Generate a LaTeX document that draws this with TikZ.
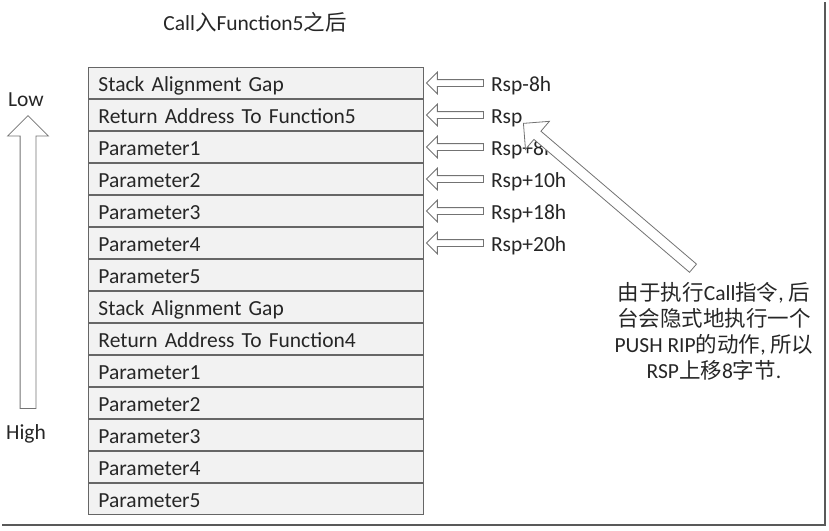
\documentclass[tikz,border=0pt]{standalone}
\usepackage{fontspec}
\setmainfont{Carlito}
\newfontfamily\cjk{Noto Sans CJK SC}
\usetikzlibrary{positioning, shapes.arrows}

\begin{document}
\begin{tikzpicture}[
      x=1pt, y=-1pt,
      font=\fontsize{21.5}{26}\selectfont,
      every node/.style = {text=black!85},
      slot/.style  = {draw=black!60, fill=black!5, line width=0.9pt, anchor=north,
                      minimum height=31.1pt, text width=315pt, inner xsep=10pt,
                      inner ysep=0pt, text height=17pt, text depth=1pt, align=left},
      ptr/.style   = {single arrow, draw=black!55, fill=white, line width=0.8pt,
                      rotate=180, anchor=tip, minimum height=57pt, minimum width=21pt,
                      inner sep=3pt, single arrow head extend=7.5pt},
      lbl/.style   = {inner sep=0pt, anchor=west, text height=17pt, text depth=1pt}]
    \useasboundingbox (0,0) rectangle (829,530);
    % screenshot frame, right and bottom edge
    \draw[black!65, line width=2.5pt] (2,525) -- (825,525) -- (825,2);
    \node (title) at (255,22) {Call{\cjk 入}Function5{\cjk 之后}};
    % stack slots, low addresses on top
    \node[slot, anchor=north west] (r1) at (88,67) {Stack Alignment Gap};
    \node[slot, below=0pt of r1]  (r2)  {Return Address To Function5};
    \node[slot, below=0pt of r2]  (r3)  {Parameter1};
    \node[slot, below=0pt of r3]  (r4)  {Parameter2};
    \node[slot, below=0pt of r4]  (r5)  {Parameter3};
    \node[slot, below=0pt of r5]  (r6)  {Parameter4};
    \node[slot, below=0pt of r6]  (r7)  {Parameter5};
    \node[slot, below=0pt of r7]  (r8)  {Stack Alignment Gap};
    \node[slot, below=0pt of r8]  (r9)  {Return Address To Function4};
    \node[slot, below=0pt of r9]  (r10) {Parameter1};
    \node[slot, below=0pt of r10] (r11) {Parameter2};
    \node[slot, below=0pt of r11] (r12) {Parameter3};
    \node[slot, below=0pt of r12] (r13) {Parameter4};
    \node[slot, below=0pt of r13] (r14) {Parameter5};
    % direction of the addresses
    \node (low)  at (26,100) {Low};
    \node (high) at (26,434) {High};
    \node[single arrow, draw=black!55, fill=white, line width=0.8pt, rotate=90,
          anchor=tip, minimum height=293pt, minimum width=40pt, inner sep=7.5pt,
          single arrow head extend=12.5pt] (dir) at (28,115) {};
    % rsp offsets
    \foreach \r/\t in {1/Rsp-8h, 2/Rsp, 3/Rsp+8h, 4/Rsp+10h, 5/Rsp+18h, 6/Rsp+20h} {
      \node[ptr] (p\r) at ([xshift=2pt]r\r.east) {};
      \node[lbl, right=7pt of p\r.tail] (o\r) {\t};
    }
    % note about the pushed rip
    \node[align=center] (note) at (714,331)
      {{\cjk 由于执行}Call{\cjk 指令}, {\cjk 后}\\
       {\cjk 台会隐式地执行一个}\\
       PUSH RIP{\cjk 的动作}, {\cjk 所以}\\
       RSP{\cjk 上移}8{\cjk 字节}.};
    \node[single arrow, draw=black!55, fill=white, line width=0.8pt, rotate=139.5,
          anchor=tip, minimum height=223pt, minimum width=36pt, inner sep=5pt,
          single arrow head extend=13pt] (push) at (523,123) {};
  \end{tikzpicture}
\end{document}
